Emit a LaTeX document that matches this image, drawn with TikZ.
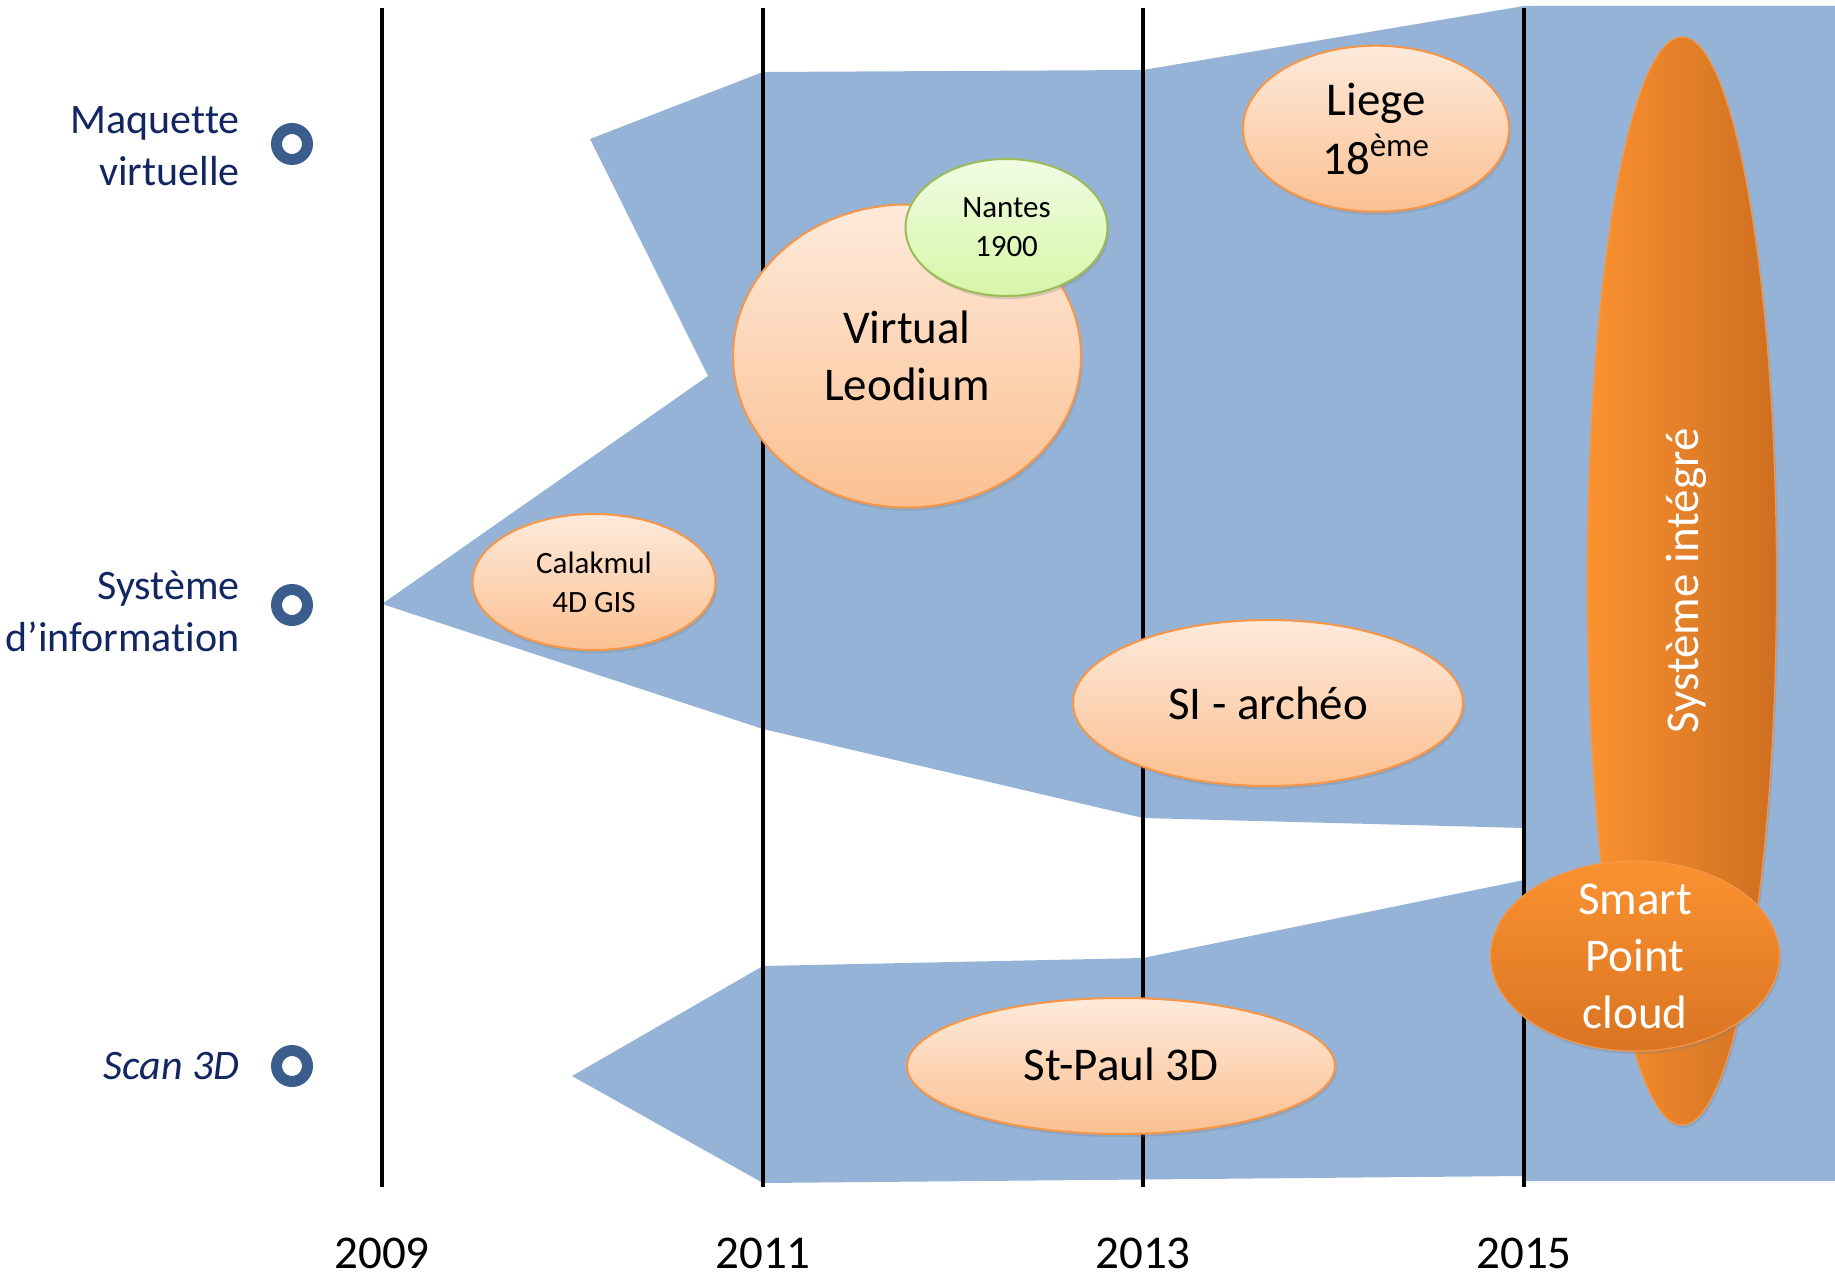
\documentclass[tikz,border=0pt]{standalone}
\usepackage{fontspec}
\setmainfont{Carlito}[Ligatures=CommonOff]
\usetikzlibrary{shapes.geometric,shadows}
\definecolor{bandblue}{RGB}{149,179,215}
\definecolor{labelnavy}{RGB}{18,38,98}
\definecolor{ringblue}{RGB}{58,93,140}
\definecolor{peachtop}{RGB}{254,234,219}
\definecolor{peachbot}{RGB}{251,192,145}
\definecolor{peachedge}{RGB}{247,150,70}
\definecolor{greentop}{RGB}{240,252,226}
\definecolor{greenbot}{RGB}{214,246,168}
\definecolor{greenedge}{RGB}{155,187,89}
\definecolor{orangeL}{RGB}{251,146,49}
\definecolor{orangeR}{RGB}{205,110,32}
\definecolor{orangeB}{RGB}{218,116,34}
\begin{document}
\begin{tikzpicture}[x=0.5pt,y=-0.5pt,
  yearline/.style={line width=1.6pt, black},
  marker/.style={circle, draw=ringblue, line width=5.5pt, minimum size=15.5pt, inner sep=0pt},
  rowlabel/.style={text=labelnavy, align=right, inner sep=0pt, font=\fontsize{21}{26}\selectfont},
  yearlabel/.style={inner sep=0pt, anchor=base, font=\fontsize{23.5}{28}\selectfont},
  softshadow/.style={drop shadow={opacity=0.28, shadow xshift=0.8pt, shadow yshift=-1.6pt}},
  peach/.style={ellipse, draw=peachedge, line width=1pt, top color=peachtop, bottom color=peachbot, inner sep=0pt, softshadow},
  greenell/.style={ellipse, draw=greenedge, line width=1pt, top color=greentop, bottom color=greenbot, inner sep=0pt, softshadow},
  bigtext/.style={inner sep=0pt, align=center, font=\fontsize{23.5}{28.75}\selectfont},
  smalltext/.style={inner sep=0pt, align=center, font=\fontsize{15.5}{19.5}\selectfont}
]
\useasboundingbox (0,0) rectangle (1835,1283);

% blue bands
\fill[bandblue] (590,139) -- (763,72) -- (1143,70) -- (1524,6) -- (1835,6)
  -- (1835,1181) -- (1524,1181) -- (1524,1176) -- (763,1183) -- (572,1076)
  -- (763,966) -- (1143,958) -- (1524,880) -- (1524,828) -- (1143,818)
  -- (763,729) -- (382,604) -- (708,376) -- cycle;

% year lines
\foreach \x in {382,763,1143,1524} \draw[yearline] (\x,8) -- (\x,1187);

% year labels
\node[yearlabel] (y2009) at (382,1268) {2009};
\node[yearlabel] (y2011) at (763,1268) {2011};
\node[yearlabel] (y2013) at (1143,1268) {2013};
\node[yearlabel] (y2015) at (1524,1268) {2015};

% row markers and labels
\node[marker] (m1) at (292,144) {};
\node[marker] (m2) at (292,605) {};
\node[marker] (m3) at (292,1066) {};
\node[rowlabel, anchor=east] (l1) at (240,146) {Maquette\\virtuelle};
\node[rowlabel, anchor=east] (l2) at (240,611) {Système\\d’information};
\node[rowlabel, anchor=base east, font=\fontsize{21}{26}\selectfont\itshape] (l3) at (240,1079) {Scan 3D};

% ellipses
\node[peach, minimum width=121.5pt, minimum height=68pt] (calak) at (594,582) {};
\node[peach, minimum width=174pt, minimum height=151.5pt] (leod) at (907,356) {};
\node[greenell, minimum width=101pt, minimum height=68.5pt] (nantes) at (1006.5,227.5) {};
\node[peach, minimum width=133pt, minimum height=83pt] (liege) at (1376,128.7) {};
\node[peach, minimum width=195pt, minimum height=83pt] (siarch) at (1268,703) {};
\node[peach, minimum width=214pt, minimum height=68pt] (stpaul) at (1121,1066) {};
\node[ellipse, draw=peachedge, line width=0.6pt, left color=orangeL, right color=orangeR, inner sep=0pt, softshadow,
      minimum width=94.5pt, minimum height=544pt] (sysint) at (1682,581) {};
\node[ellipse, draw=peachedge, line width=0.6pt, top color=orangeL, bottom color=orangeB, inner sep=0pt, softshadow,
      minimum width=144.5pt, minimum height=95pt] (smart) at (1635,956) {};

% texts
\node[smalltext] (calakT) at (calak.center) {Calakmul\\4D GIS};
\node[bigtext] (leodT) at (leod.center) {Virtual\\Leodium};
\node[smalltext] (nantesT) at (nantes.center) {Nantes\\1900};
\node[bigtext, font=\fontsize{23.5}{29.5}\selectfont] (liegeT) at (liege.center) {Liege\\18\textsuperscript{ème}};
\node[bigtext] (siarchT) at (siarch.center) {SI - archéo};
\node[bigtext] (stpaulT) at ([yshift=1pt]stpaul.center) {St-Paul 3D};
\node[bigtext, text=white, rotate=90, anchor=base] (sysintT) at (1698,581) {Système intégré};
\node[bigtext, text=white, font=\fontsize{23.5}{28.5}\selectfont] (smartT) at (smart.center) {Smart\\Point\\cloud};
\end{tikzpicture}
\end{document}
